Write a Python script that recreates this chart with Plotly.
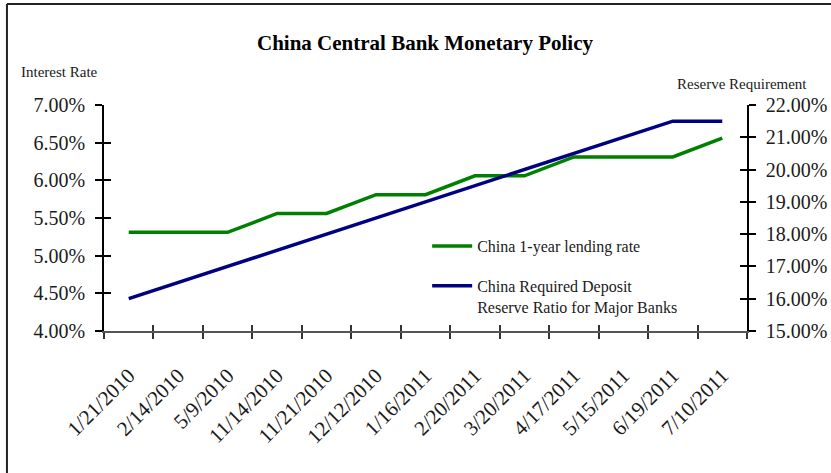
import plotly.graph_objects as go

# Policy dates (category axis)
dates = ["1/21/2010", "2/14/2010", "5/9/2010", "11/14/2010", "11/21/2010",
         "12/12/2010", "1/16/2011", "2/20/2011", "3/20/2011", "4/17/2011",
         "5/15/2011", "6/19/2011", "7/10/2011"]

# China 1-year lending rate (%)
lending_rate = [5.31, 5.31, 5.31, 5.56, 5.56, 5.81, 5.81, 6.06, 6.06, 6.31,
                6.31, 6.31, 6.56]

# Required deposit reserve ratio for major banks (%)
reserve_ratio = [16.0, 16.5, 17.0, 17.5, 18.0, 18.5, 19.0, 19.5, 20.0, 20.5,
                 21.0, 21.5, 21.5]

rate_ticks = [4.0, 4.5, 5.0, 5.5, 6.0, 6.5, 7.0]
rrr_ticks = [15, 16, 17, 18, 19, 20, 21, 22]
rate_labels = [f"{v:.2f}%" for v in rate_ticks]
rrr_labels = [f"{v:.2f}%" for v in rrr_ticks]

W, H = 831, 473
L, R, T, B = 104, 746.7, 105, 331   # plot area in pixels


def px(x):
    return (x - L) / (R - L)


def py(y):
    return (B - y) / (B - T)


SERIF = "Liberation Serif, Times New Roman, serif"
GREEN = "#008000"
NAVY = "#000080"
INK = "#1a1a1a"

fig = go.Figure()

fig.add_trace(go.Scatter(
    x=dates, y=lending_rate, name="China 1-year lending rate",
    mode="lines", line=dict(color=GREEN, width=3.5),
    legendgroup="a", xaxis="x", yaxis="y"))

fig.add_trace(go.Scatter(
    x=dates, y=reserve_ratio,
    name="China Required Deposit<br>Reserve Ratio for Major Banks",
    mode="lines", line=dict(color=NAVY, width=3.5),
    legendgroup="b", xaxis="x", yaxis="y2"))

# companion traces that carry the inner half of the crossing tick marks
fig.add_trace(go.Scatter(x=dates, y=lending_rate, mode="lines",
                         line=dict(width=0), opacity=0, showlegend=False,
                         hoverinfo="skip", xaxis="x2", yaxis="y3"))
fig.add_trace(go.Scatter(x=dates, y=reserve_ratio, mode="lines",
                         line=dict(width=0), opacity=0, showlegend=False,
                         hoverinfo="skip", xaxis="x2", yaxis="y4"))

tick_font = dict(family=SERIF, size=20, color=INK)

fig.update_layout(
    width=W, height=H,
    margin=dict(l=L, r=W - R, t=T, b=H - B, autoexpand=False),
    paper_bgcolor="white", plot_bgcolor="white",
    font=dict(family=SERIF, color="black"),
    showlegend=True,
    legend=dict(
        x=px(427), y=py(229), xanchor="left", yanchor="top",
        bgcolor="rgba(0,0,0,0)", borderwidth=0,
        font=dict(family=SERIF, size=16, color=INK),
        traceorder="grouped", tracegroupgap=16, valign="top",
        itemwidth=40,
    ),
    xaxis=dict(
        type="category", categoryorder="array", categoryarray=dates,
        range=[-0.5, len(dates) - 0.5],
        tickson="boundaries", ticks="outside", ticklen=6, tickwidth=1.5,
        tickcolor="#333", showline=True, linecolor="#555", linewidth=2,
        tickangle=-45, tickfont=dict(family=SERIF, size=21, color=INK),
        ticklabelstandoff=22,
        showgrid=False, zeroline=False, fixedrange=True,
    ),
    xaxis2=dict(
        type="category", categoryorder="array", categoryarray=dates,
        overlaying="x", range=[-0.5, len(dates) - 0.5],
        tickson="boundaries", ticks="inside", ticklen=6, tickwidth=1.5,
        tickcolor="#333", showticklabels=False, showline=False,
        showgrid=False, zeroline=False, side="bottom",
    ),
    yaxis=dict(
        range=[4, 7], tickvals=rate_ticks, ticktext=rate_labels,
        ticks="outside", ticklen=7, tickwidth=1.5, tickcolor="black",
        showline=True, linecolor="black", linewidth=1.5,
        tickfont=tick_font, ticklabelstandoff=6,
        showgrid=False, zeroline=False,
    ),
    yaxis2=dict(
        range=[15, 22], tickvals=rrr_ticks, ticktext=rrr_labels,
        overlaying="y", side="right",
        ticks="outside", ticklen=7, tickwidth=1.5, tickcolor="black",
        showline=True, linecolor="black", linewidth=1.5,
        tickfont=tick_font, ticklabelstandoff=6,
        showgrid=False, zeroline=False,
    ),
    yaxis3=dict(
        range=[4, 7], tickvals=rate_ticks, overlaying="y", side="left",
        ticks="inside", ticklen=7, tickwidth=1.5, tickcolor="black",
        showticklabels=False, showline=False, showgrid=False, zeroline=False,
    ),
    yaxis4=dict(
        range=[15, 22], tickvals=rrr_ticks, overlaying="y", side="right",
        ticks="inside", ticklen=7, tickwidth=1.5, tickcolor="black",
        showticklabels=False, showline=False, showgrid=False, zeroline=False,
    ),
    annotations=[
        dict(text="<b>China Central Bank Monetary Policy</b>",
             x=px(425), y=py(43), xref="paper", yref="paper",
             xanchor="center", yanchor="middle", showarrow=False,
             font=dict(family=SERIF, size=21, color="black")),
        dict(text="Interest Rate", x=px(19), y=py(72),
             xref="paper", yref="paper", xanchor="left", yanchor="middle",
             showarrow=False, font=dict(family=SERIF, size=15, color=INK)),
        dict(text="Reserve Requirement", x=px(809), y=py(84),
             xref="paper", yref="paper", xanchor="right", yanchor="middle",
             showarrow=False, font=dict(family=SERIF, size=15, color=INK)),
    ],
    shapes=[
        dict(type="line", xref="paper", yref="paper",
             x0=px(7), x1=px(W + 2), y0=py(4), y1=py(4),
             line=dict(color="#222", width=2)),
        dict(type="line", xref="paper", yref="paper",
             x0=px(7), x1=px(7), y0=py(4), y1=py(H + 2),
             line=dict(color="#222", width=2)),
    ],
)

fig.write_html("out.html")
